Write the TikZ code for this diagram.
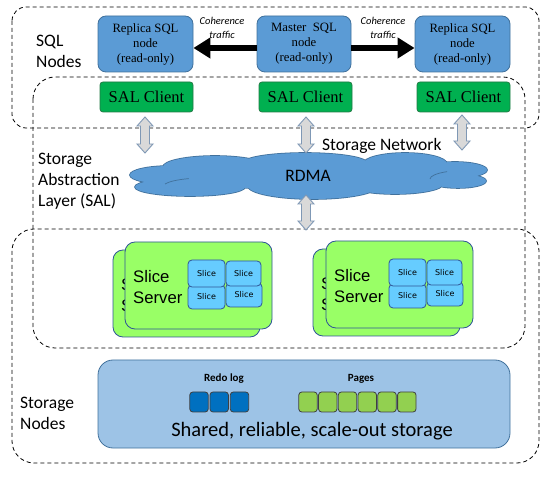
\documentclass[tikz,border=0pt]{standalone}
\usepackage{fontspec}
\setmainfont{Liberation Serif}
\newfontfamily\calibri{Carlito}
\newfontfamily\arialf{Liberation Sans}
\newfontfamily\dejavu{DejaVu Sans}
\usetikzlibrary{arrows.meta}
\definecolor{sqlblue}{HTML}{5B9BD5}
\definecolor{sqlborder}{HTML}{41719C}
\definecolor{salgreen}{HTML}{00B050}
\definecolor{salborder}{HTML}{237A45}
\definecolor{ssgreen}{HTML}{99FF66}
\definecolor{ssborder}{HTML}{2F5597}
\definecolor{slicefill}{HTML}{66CCFF}
\definecolor{storfill}{HTML}{9DC3E6}
\definecolor{redofill}{HTML}{0070C0}
\definecolor{pagefill}{HTML}{92D050}
\definecolor{arrgray}{HTML}{D9D9D9}
\definecolor{arrborder}{HTML}{7F98B5}
\newcommand\vdarrow[3]{% x, top y, bottom y
  \draw[darr] (#1,#2) -- ++(8,9) -- ++(-3.5,0) -- (#1+4.5,#3-9) -- ++(3.5,0)
    -- (#1,#3) -- ++(-8,-9) -- ++(3.5,0) -- (#1-4.5,#2+9) -- ++(-3.5,0) -- cycle;}
\tikzset{
  dashbox/.style={draw=black, line width=0.8pt, dash pattern=on 4pt off 3pt},
  sqlnode/.style={draw=sqlborder, fill=sqlblue, rounded corners=8pt, line width=0.8pt,
    minimum width=95pt, minimum height=56pt, align=center, inner sep=0pt,
    font=\fontsize{12.7}{15}\selectfont},
  salnode/.style={draw=salborder, fill=salgreen, rounded corners=3pt, line width=0.8pt,
    minimum width=93pt, minimum height=30pt, inner sep=0pt,
    font=\fontsize{16.5}{18}\selectfont},
  lbl/.style={font=\calibri\fontsize{17.5}{21}\selectfont, align=left, inner sep=0pt},
  coh/.style={line width=6pt, -{Triangle[length=17pt,width=20pt]}},
  cohlabel/.style={font=\calibri\itshape\fontsize{10.5}{13.5}\selectfont, align=center, inner sep=0pt},
  darr/.style={draw=arrborder, fill=arrgray, line width=0.9pt, line join=miter},
  ssbox/.style={draw=ssborder, fill=ssgreen, rounded corners=10pt, line width=0.8pt,
    minimum width=147pt, minimum height=87pt, inner sep=0pt},
  sstext/.style={font=\arialf\fontsize{16.7}{21}\selectfont, align=left, inner sep=0pt},
  slicebox/.style={draw=ssborder, fill=slicefill, rounded corners=4pt, line width=0.8pt,
    inner sep=0pt, font=\dejavu\fontsize{8}{9}\selectfont},
  blk/.style={draw=black!75, line width=0.8pt, rounded corners=3pt, minimum width=18.4pt,
    minimum height=20pt, inner sep=0pt},
  sliceserverback/.pic={
    \node[ssbox] (box) at (73.5,43.5) {};
    \node[sstext, anchor=north west] (txt) at (8,28) {Slice\\Server};
  },
  sliceserver/.pic={
    \node[ssbox] (box) at (73.5,43.5) {};
    \node[sstext, anchor=north west] (txt) at (8,28) {Slice\\Server};
    \node[slicebox, minimum width=37pt, minimum height=24pt] (bl) at (81.5,55) {Slice};
    \node[slicebox, minimum width=36pt, minimum height=24pt] (br) at (119,53) {Slice};
    \node[slicebox, minimum width=37pt, minimum height=27pt, text depth=-4pt] (tl) at (81.5,31.5) {Slice};
    \node[slicebox, minimum width=35pt, minimum height=25pt] (tr) at (118.5,31.5) {Slice};
  }
}
\begin{document}
\begin{tikzpicture}[x=1pt,y=-1pt]
\useasboundingbox (0,0) rectangle (560,478);
% dashed regions
\draw[dashbox, rounded corners=14pt] (12,7) rectangle (539,128);
\draw[dashbox, rounded corners=22pt] (33,77) rectangle (525,348);
\draw[dashbox, rounded corners=22pt] (12,229) rectangle (539,463);
% region labels
\node[lbl, anchor=north west] (lsql) at (36,35) {SQL\\Nodes};
\node[lbl, anchor=north west] (lsal) at (38,153) {Storage\\Abstraction\\Layer (SAL)};
\node[lbl, anchor=north west] (lsto) at (20,397) {Storage\\Nodes};
% SQL nodes
\node[sqlnode] (repL) at (145.5,44) {Replica SQL\\node\\(read-only)};
\node[sqlnode, minimum width=94pt] (master) at (304,44) {Master\ \ SQL\\node\\(read-only)};
\node[sqlnode] (repR) at (462.5,44) {Replica SQL\\node\\(read-only)};
\draw[coh] ([yshift=-4pt]master.west) -- ([yshift=-4pt]repL.east);
\draw[coh] ([yshift=-4pt]master.east) -- ([yshift=-4pt]repR.west);
\node[cohlabel] (cohL) at (222,28) {Coherence\\traffic};
\node[cohlabel] (cohR) at (383,28) {Coherence\\traffic};
% SAL clients
\node[salnode] (salL) at (146.5,97) {SAL Client};
\node[salnode] (salM) at (305.5,97) {SAL Client};
\node[salnode] (salR) at (463.5,97) {SAL Client};
% cloud built from overlapping ellipses: outline pass, then fill pass
\def\cloudparts{%
  (170,175) ellipse [x radius=40, y radius=9]
  (215,167) ellipse [x radius=52, y radius=11]
  (190,187) ellipse [x radius=55, y radius=9]
  (305,163) ellipse [x radius=62, y radius=10]
  (313,186) ellipse [x radius=65, y radius=13]
  (405,164) ellipse [x radius=42, y radius=11]
  (395,184) ellipse [x radius=48, y radius=10]
  (455,170) ellipse [x radius=32, y radius=8]
  (458,181) ellipse [x radius=28, y radius=7]
  (308,176) ellipse [x radius=150, y radius=13]}
\draw[sqlborder, line width=1.6pt] \cloudparts;
\fill[sqlblue] \cloudparts;
\draw[sqlborder, line width=0.7pt] (165,184) arc[start angle=200, end angle=250, x radius=40, y radius=9];
\draw[sqlborder, line width=0.7pt] (430,179) arc[start angle=180, end angle=235, x radius=40, y radius=9];
\node[font=\calibri\fontsize{17.5}{21}\selectfont, inner sep=0pt, minimum width=357pt,
  minimum height=46pt] (cloud) at (308,176) {RDMA};
\node[lbl, anchor=base west] (snet) at (322,151) {Storage Network};
% double arrows
\vdarrow{145}{117}{153}
\vdarrow{306}{117}{153}
\vdarrow{462}{115}{150}
\vdarrow{306}{195}{230}
% slice servers
\pic (ssL1) at (113,250) {sliceserverback};
\pic (ssL2) at (125,242) {sliceserver};
\pic (ssR1) at (313,249) {sliceserverback};
\pic (ssR2) at (326,241) {sliceserver};
% storage
\node[draw=sqlborder, fill=storfill, rounded corners=15pt, line width=0.8pt,
  minimum width=412pt, minimum height=88pt, inner sep=0pt] (stor) at (304,404) {};
\node[font=\calibri\bfseries\fontsize{11}{13}\selectfont, inner sep=0pt] (lredo) at (224,379) {Redo log};
\node[font=\calibri\bfseries\fontsize{11}{13}\selectfont, inner sep=0pt] (lpages) at (361,379) {Pages};
\foreach \i/\x in {1/199,2/219.2,3/239.5}
  \node[blk, fill=redofill] (r\i) at (\x,402) {};
\foreach \i in {0,...,5}
  \node[blk, fill=pagefill] (p\i) at (308+19.76*\i,402) {};
\node[font=\calibri\fontsize{20.5}{24}\selectfont, inner sep=0pt, anchor=base] (shared) at (312,437)
  {Shared, reliable, scale-out storage};
\end{tikzpicture}
\end{document}
